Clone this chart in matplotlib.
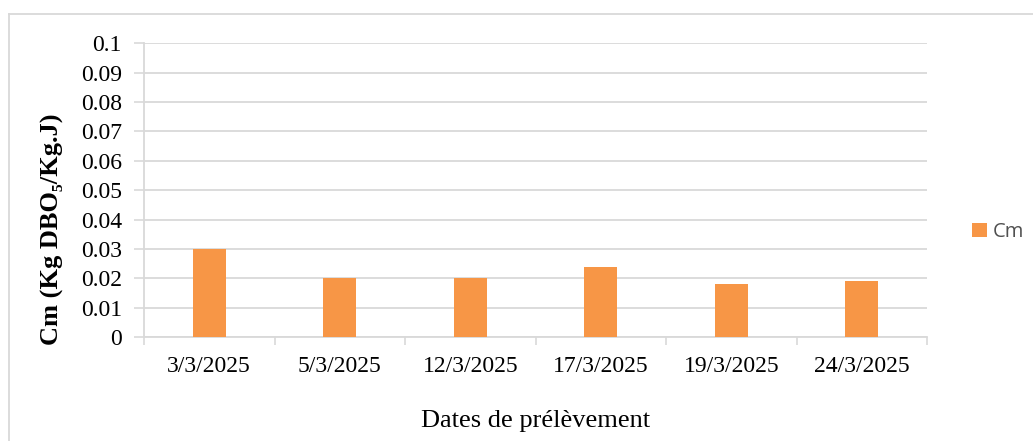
import matplotlib
matplotlib.use("Agg")
import matplotlib.pyplot as plt
from matplotlib.lines import Line2D

# Sampling dates and mass loading values
dates = ["3/3/2025", "5/3/2025", "12/3/2025", "17/3/2025", "19/3/2025", "24/3/2025"]
cm_values = [0.030, 0.020, 0.020, 0.024, 0.018, 0.019]
series_name = "Cm"
y_ticks = [0, 0.01, 0.02, 0.03, 0.04, 0.05, 0.06, 0.07, 0.08, 0.09, 0.1]
y_tick_labels = ["0", "0.01", "0.02", "0.03", "0.04", "0.05", "0.06", "0.07", "0.08", "0.09", "0.1"]

W, H = 1033, 441
fig = plt.figure(figsize=(W / 100, H / 100), dpi=100)
serif = ["Liberation Serif", "DejaVu Serif"]
grid_col = "#d9d9d9"
bar_col = "#f79646"

ax = fig.add_axes([144 / W, 1 - 337 / H, (927 - 144) / W, (337 - 43.3) / H])

x = list(range(len(dates)))
ax.bar(x, cm_values, width=0.25, color=bar_col, zorder=3, label=series_name)

ax.set_xlim(-0.5, len(dates) - 0.5)
ax.set_ylim(0, 0.1)
ax.set_yticks(y_ticks)
ax.set_yticklabels(y_tick_labels, fontfamily=serif, fontsize=17)
ax.set_xticks(x)
ax.set_xticklabels(dates, fontfamily=serif, fontsize=17)

# category boundary ticks on the x axis
ax.set_xticks([i - 0.5 for i in range(len(dates) + 1)], minor=True)
ax.tick_params(axis="x", which="major", length=0, pad=14)
ax.tick_params(axis="x", which="minor", length=6, width=1.2, color=grid_col)
ax.tick_params(axis="y", length=7, width=1.2, color=grid_col, pad=9)

ax.grid(axis="y", color=grid_col, linewidth=1.3, zorder=0)
for s in ["top", "right"]:
    ax.spines[s].set_visible(False)
for s in ["left", "bottom"]:
    ax.spines[s].set_color(grid_col)
    ax.spines[s].set_linewidth(1.3)

fig.text(52 / W, 1 - 229.5 / H, "Cm (Kg DBO\u2085/Kg.J)", rotation=90,
         ha="center", va="center", fontfamily=serif, fontweight="bold", fontsize=19)
fig.text(536 / W, 1 - 421 / H, "Dates de prélèvement", ha="center", va="center",
         fontfamily=serif, fontsize=19)

fig.legend(loc="center left", bbox_to_anchor=(962 / W, 1 - 232 / H), frameon=False,
           handlelength=0.75, handleheight=0.75, handletextpad=0.3, borderpad=0,
           prop={"family": ["Open Sans", "DejaVu Sans"], "size": 14.5}, labelcolor="#505050")

# outer chart frame
fig.add_artist(Line2D([9 / W, 1], [1 - 14 / H, 1 - 14 / H], color=grid_col, linewidth=1.3))
fig.add_artist(Line2D([9 / W, 9 / W], [0, 1 - 14 / H], color=grid_col, linewidth=1.3))

fig.savefig("out.png", dpi=100)
